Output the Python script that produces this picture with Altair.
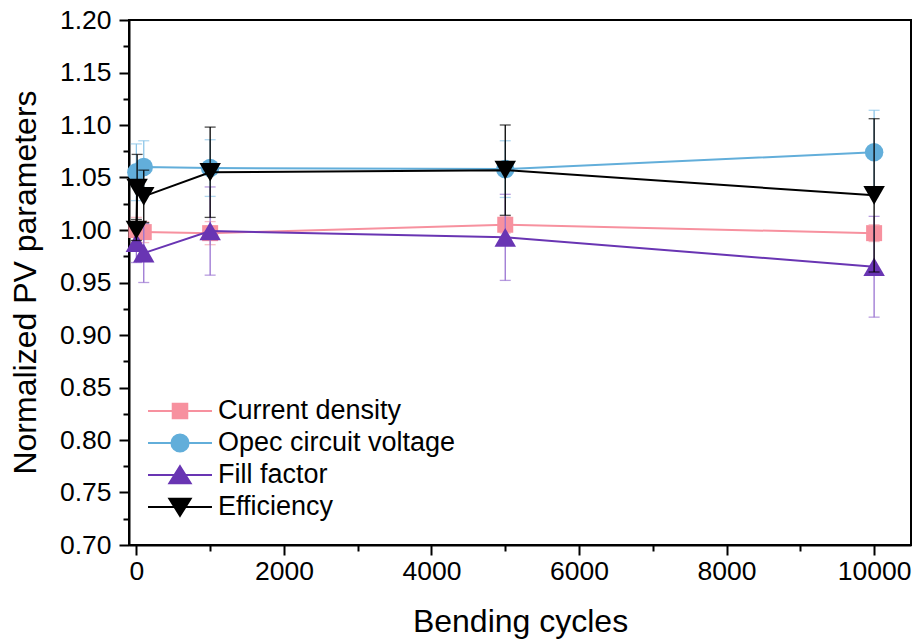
import altair as alt
import pandas as pd

# ---- data -------------------------------------------------------------
series_names = ["Current density", "Opec circuit voltage", "Fill factor", "Efficiency"]
line_colors = ["#F7919F", "#62AEDA", "#6935B3", "#000000"]
err_colors = ["#F4A3AE", "#8DC6E8", "#9A74D2", "#000000"]
marker_shapes = ["square", "circle", "triangle-up", "triangle-down"]
marker_sizes = [256, 342, 462, 462]

cycles_jsc = [0, 100, 1000, 5000, 10000]
jsc = [1.000, 0.998, 0.997, 1.005, 0.997]
jsc_err = [0.012, 0.010, 0.011, 0.008, 0.008]

cycles_voc = [0, 100, 1000, 5000, 10000]
voc = [1.055, 1.060, 1.059, 1.058, 1.074]
voc_err = [0.027, 0.025, 0.027, 0.027, 0.040]

cycles_ff = [0, 100, 1000, 5000, 10000]
ff = [0.988, 0.978, 0.999, 0.993, 0.965]
ff_err = [0.019, 0.028, 0.042, 0.041, 0.048]

cycles_eff = [0, 10, 100, 1000, 5000, 10000]
eff = [1.000, 1.040, 1.032, 1.055, 1.057, 1.033]
eff_err = [0.010, 0.032, 0.025, 0.043, 0.043, 0.073]

x_major = [0, 2000, 4000, 6000, 8000, 10000]
x_minor = [1000, 3000, 5000, 7000, 9000]
y_major = [0.70, 0.75, 0.80, 0.85, 0.90, 0.95, 1.00, 1.05, 1.10, 1.15, 1.20]
y_minor = [0.725, 0.775, 0.825, 0.875, 0.925, 0.975, 1.025, 1.075, 1.125, 1.175]

# legend glyphs: a line segment with the series marker on it
legend_paths = [
    "M-2.46,0H2.46M-0.56,-0.56H0.56V0.56H-0.56Z",
    "M-2.46,0H2.46M-0.66,0A0.66,0.66 0 1,0 0.66,0A0.66,0.66 0 1,0 -0.66,0Z",
    "M-2.46,0H2.46M0,-0.68L0.82,0.64L-0.82,0.64Z",
    "M-2.46,0H2.46M0,0.68L0.82,-0.64L-0.82,-0.64Z",
]

FONT = "Liberation Sans"

x_scale = alt.Scale(domain=[-100, 10500], nice=False, zero=False)
y_scale = alt.Scale(domain=[0.70, 1.20], nice=False, zero=False)

series_data = [
    (cycles_jsc, jsc, jsc_err),
    (cycles_voc, voc, voc_err),
    (cycles_ff, ff, ff_err),
    (cycles_eff, eff, eff_err),
]

# ---- axes -------------------------------------------------------------
ax_x_major = alt.Axis(
    orient="bottom", values=x_major, format="d", grid=False,
    domainColor="black", domainWidth=2, tickColor="black", tickWidth=2, tickSize=10,
    labelFont=FONT, labelFontSize=26.5, labelColor="black", labelPadding=3,
    labelFlush=False, labelOverlap=False,
    title="Bending cycles", titleFont=FONT, titleFontSize=32, titleFontWeight="normal",
    titleColor="black", titleX=391, titleY=86, titleAlign="center", titleBaseline="alphabetic",
)
ax_x_minor = alt.Axis(
    orient="bottom", values=x_minor, grid=False, domain=False, labels=False,
    tickColor="black", tickWidth=2, tickSize=6, title=None,
)
ax_y_major = alt.Axis(
    orient="left", values=y_major, format=".2f", grid=False,
    domainColor="black", domainWidth=2, tickColor="black", tickWidth=2, tickSize=10,
    labelFont=FONT, labelFontSize=26.5, labelColor="black", labelPadding=8,
    labelFlush=False, labelOverlap=False,
    title="Normalized PV parameters", titleFont=FONT, titleFontSize=32, titleFontWeight="normal",
    titleColor="black", titleAngle=-90, titleX=-94, titleY=262, titleAlign="center",
    titleBaseline="alphabetic",
)
ax_y_minor = alt.Axis(
    orient="left", values=y_minor, grid=False, domain=False, labels=False,
    tickColor="black", tickWidth=2, tickSize=6, title=None,
)

layers = []

# axis carriers (no visible marks)
axis_df = pd.DataFrame({"x": [0], "y": [1.0]})
layers.append(
    alt.Chart(axis_df).mark_point(opacity=0).encode(
        x=alt.X("x:Q", scale=x_scale, axis=ax_x_major),
        y=alt.Y("y:Q", scale=y_scale, axis=ax_y_major),
    )
)
layers.append(
    alt.Chart(axis_df).mark_point(opacity=0).encode(
        x=alt.X("x:Q", scale=x_scale, axis=ax_x_minor),
        y=alt.Y("y:Q", scale=y_scale, axis=ax_y_minor),
    )
)

# ---- series: line, error bars, markers -------------------------------
for i, (xs, ys, es) in enumerate(series_data):
    df = pd.DataFrame({
        "cycles": xs,
        "value": ys,
        "lo": [v - e for v, e in zip(ys, es)],
        "hi": [v + e for v, e in zip(ys, es)],
    })
    base = alt.Chart(df)
    X = alt.X("cycles:Q", scale=x_scale, axis=None)
    line = base.mark_line(strokeWidth=2, color=line_colors[i]).encode(
        x=X, y=alt.Y("value:Q", scale=y_scale, axis=None)
    )
    bar = base.mark_rule(strokeWidth=1.3, color=err_colors[i]).encode(
        x=X, y=alt.Y("lo:Q", scale=y_scale, axis=None), y2="hi:Q"
    )
    cap_lo = base.mark_tick(orient="horizontal", size=11, thickness=1.3, color=err_colors[i]).encode(
        x=X, y=alt.Y("lo:Q", scale=y_scale, axis=None)
    )
    cap_hi = base.mark_tick(orient="horizontal", size=11, thickness=1.3, color=err_colors[i]).encode(
        x=X, y=alt.Y("hi:Q", scale=y_scale, axis=None)
    )
    pts = base.mark_point(
        filled=True, opacity=1, shape=marker_shapes[i], size=marker_sizes[i],
        color=line_colors[i], strokeWidth=0,
    ).encode(x=X, y=alt.Y("value:Q", scale=y_scale, axis=None))
    layers += [line, bar, cap_lo, cap_hi, pts]

# ---- legend ------------------------------------------------------------
leg = dict(
    orient="none", legendX=37, legendY=377, title=None, padding=0,
    symbolSize=676, symbolStrokeWidth=2, symbolOpacity=1,
    labelFont=FONT, labelFontSize=27, labelColor="black", labelOffset=24,
    labelLimit=0, rowPadding=5,
)
legend_df = pd.DataFrame({"series": series_names})
legend_layer = (
    alt.Chart(legend_df)
    .transform_filter("false")
    .mark_point(filled=True, opacity=1)
    .encode(
        color=alt.Color("series:N", scale=alt.Scale(domain=series_names, range=line_colors),
                        legend=alt.Legend(**leg)),
        stroke=alt.Stroke("series:N", scale=alt.Scale(domain=series_names, range=line_colors),
                          legend=alt.Legend(**leg)),
        shape=alt.Shape("series:N", scale=alt.Scale(domain=series_names, range=legend_paths),
                        legend=alt.Legend(**leg)),
    )
)
layers.append(legend_layer)

chart = (
    alt.layer(*layers)
    .resolve_axis(x="independent", y="independent")
    .properties(
        width=782, height=525, background="white", autosize="none",
        padding={"left": 129, "top": 20, "right": 6, "bottom": 99},
    )
    .configure_view(stroke="black", strokeWidth=2)
)

chart.save("out.html", embed_options={"renderer": "svg", "actions": False})
